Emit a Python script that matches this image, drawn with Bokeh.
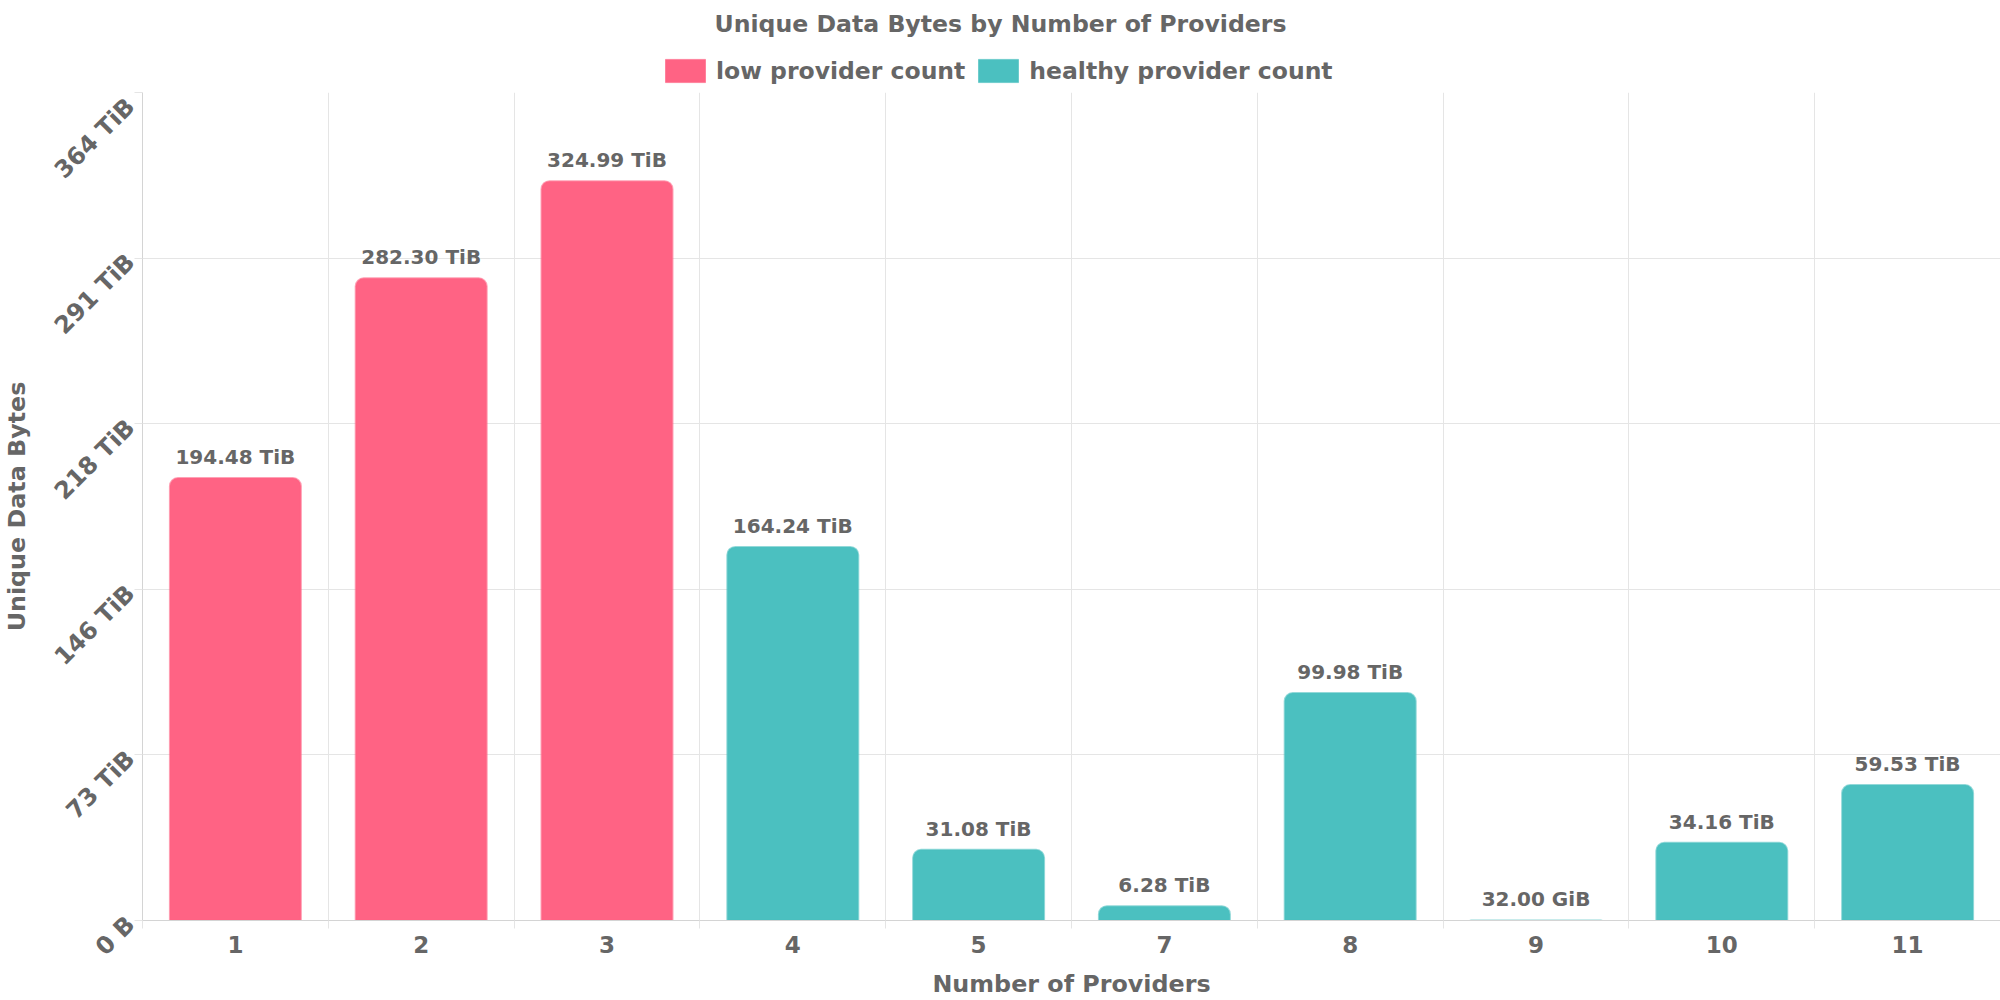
import math
from bokeh.plotting import figure
from bokeh.layouts import column
from bokeh.models import ColumnDataSource, FixedTicker, Legend, LegendItem, Label
from bokeh.core.properties import value
from bokeh.embed import file_html
from bokeh.resources import INLINE

# ---- data ----
providers = ["1", "2", "3", "4", "5", "7", "8", "9", "10", "11"]
unique_bytes_tib = [194.48, 282.30, 324.99, 164.24, 31.08, 6.28, 99.98, 32.0 / 1024, 34.16, 59.53]
value_labels = ["194.48 TiB", "282.30 TiB", "324.99 TiB", "164.24 TiB", "31.08 TiB",
                "6.28 TiB", "99.98 TiB", "32.00 GiB", "34.16 TiB", "59.53 TiB"]
groups = ["low provider count"] * 3 + ["healthy provider count"] * 7
series_names = ["low provider count", "healthy provider count"]
series_colors = ["#FF6384", "#4BC0C0"]
y_ticks_tib = [0, 72.8, 145.6, 218.4, 291.2, 364.0]
y_tick_labels = ["0 B", "73 TiB", "146 TiB", "218 TiB", "291 TiB", "364 TiB"]
chart_title = "Unique Data Bytes by Number of Providers"

FONT = "DejaVu Sans"
TXT = "#666666"
GRID = "#e5e5e5"
W, H_HEAD, H_MAIN = 2000, 92, 908
FRAME_LEFT = 142  # the header frame is aligned with the chart frame by the column layout

n = len(providers)
centers = [i + 0.5 for i in range(n)]

# ---------------- header: title + legend ----------------
head = figure(width=W, height=H_HEAD, x_range=(0, W), y_range=(0, H_HEAD),
              x_axis_type=None, y_axis_type=None, output_backend="svg",
              toolbar_location=None, min_border=0)
head.outline_line_color = None
head.grid.visible = False

items = []
for name, color in zip(series_names, series_colors):
    # swatch-only renderers (kept off-screen) that give the legend its colour boxes
    r = head.vbar(x=[-W], top=[0], width=1, fill_color=color, line_color=color, line_alpha=0.6)
    items.append(LegendItem(label=name, renderers=[r]))

legend = Legend(items=items, orientation="horizontal", location=(660 - FRAME_LEFT, 7),
                glyph_width=50, glyph_height=29, label_standoff=6, spacing=8,
                padding=0, margin=0, label_height=23,
                label_text_font=FONT, label_text_font_style="bold",
                label_text_font_size="23.5px", label_text_color=TXT,
                label_text_baseline="middle",
                border_line_color=None, background_fill_alpha=0)
head.add_layout(legend)

head.add_layout(Label(x=W / 2 - FRAME_LEFT, y=H_HEAD - 23.5, x_units="screen", y_units="screen",
                      text=chart_title, text_align="center", text_baseline="middle",
                      text_font=FONT, text_font_style="bold", text_font_size="23.6px",
                      text_color=TXT))

# ---------------- main bar chart ----------------
p = figure(width=W, height=H_MAIN, x_range=(0, n), y_range=(0, y_ticks_tib[-1]),
           output_backend="svg", toolbar_location=None,
           min_border_left=FRAME_LEFT, min_border_right=0, min_border_top=0, min_border_bottom=80)
p.title = None
p.outline_line_color = None

for name, color in zip(series_names, series_colors):
    idx = [i for i, g in enumerate(groups) if g == name]
    src = ColumnDataSource(dict(
        x=[centers[i] for i in idx],
        top=[unique_bytes_tib[i] for i in idx],
    ))
    p.vbar(x="x", top="top", bottom=0, width=0.705, source=src,
           fill_color=color, line_color=color, line_alpha=0.6, line_width=2,
           border_radius=(8, 8, 0, 0))

lab_src = ColumnDataSource(dict(x=centers, y=unique_bytes_tib, t=value_labels))
p.text(x="x", y="y", text="t", source=lab_src, text_align="center",
       text_baseline="alphabetic", y_offset=-21,
       text_font=value(FONT), text_font_style="bold", text_font_size="20px",
       text_color=TXT)

# axes
xa = p.xaxis[0]
xa.ticker = FixedTicker(ticks=centers, minor_ticks=list(range(n + 1)))
xa.major_label_overrides = {c: lab for c, lab in zip(centers, providers)}
xa.major_tick_out = 0
xa.major_tick_in = 0
xa.minor_tick_out = 8
xa.minor_tick_in = 0
xa.minor_tick_line_color = GRID
xa.axis_line_color = "#d4d4d4"
xa.major_label_text_font = FONT
xa.major_label_text_font_style = "bold"
xa.major_label_text_font_size = "23px"
xa.major_label_text_color = TXT
xa.major_label_standoff = 7
xa.axis_label = "Number of Providers"
xa.axis_label_text_font = FONT
xa.axis_label_text_font_style = "bold"
xa.axis_label_text_font_size = "23.8px"
xa.axis_label_text_color = TXT
xa.axis_label_standoff = 14

ya = p.yaxis[0]
ya.ticker = FixedTicker(ticks=y_ticks_tib, minor_ticks=[])
ya.major_label_overrides = {t: lab for t, lab in zip(y_ticks_tib, y_tick_labels)}
ya.major_label_orientation = math.pi / 4
ya.major_tick_out = 8
ya.major_tick_in = 0
ya.major_tick_line_color = GRID
ya.minor_tick_line_color = None
ya.axis_line_color = "#d4d4d4"
ya.major_label_text_font = FONT
ya.major_label_text_font_style = "bold"
ya.major_label_text_font_size = "24px"
ya.major_label_text_color = TXT
ya.major_label_standoff = 4
ya.axis_label = "Unique Data Bytes"
ya.axis_label_text_font = FONT
ya.axis_label_text_font_style = "bold"
ya.axis_label_text_font_size = "23.8px"
ya.axis_label_text_color = TXT
ya.axis_label_standoff = 5

p.xgrid.ticker = FixedTicker(ticks=list(range(n + 1)))
p.xgrid.grid_line_color = GRID
p.ygrid.grid_line_color = GRID

page = column(head, p, spacing=0)
open("out.html", "w").write(file_html(page, INLINE))
